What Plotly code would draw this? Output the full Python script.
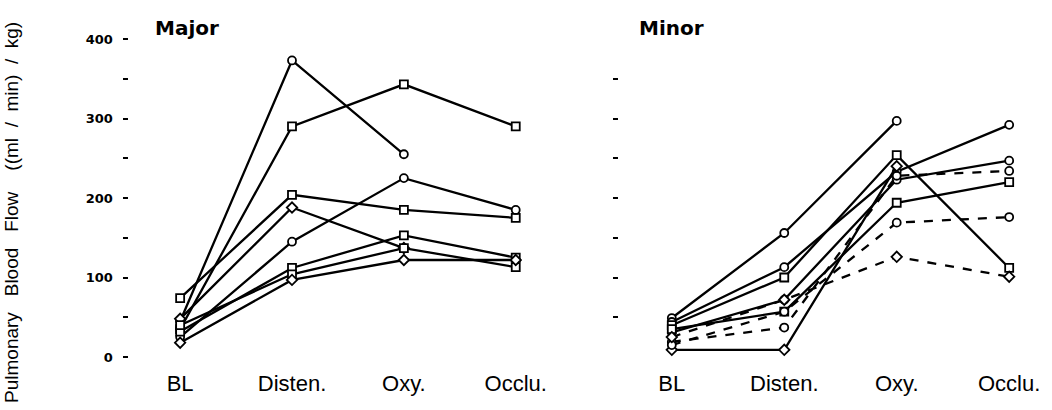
import plotly.graph_objects as go

W, H = 1052, 410

# Stages measured in each group
stages = ["BL", "Disten.", "Oxy.", "Occlu."]

# Major group: pulmonary blood flow per subject, (ml/min)/kg
major_a = [45, 373, 255]
major_b = [35, 290, 343, 290]
major_c = [74, 204, 185, 175]
major_d = [25, 145, 225, 185]
major_e = [48, 188, 137]
major_f = [32, 112, 153, 125]
major_g = [40, 104, 137, 113]
major_h = [18, 97, 122, 122]

# Minor group
minor_a = [49, 156, 297]
minor_b = [44, 113, 233, 292]
minor_c = [40, 100, 254, 112]
minor_d = [31, 72, 223, 247]
minor_e = [35, 57, 194, 220]
minor_f = [19, 37, 228, 234]
minor_g = [9, 9, 240]
minor_h = [15, 57, 169, 176]
minor_i = [25, 72, 126, 101]

major_series = [
    (major_a, "circle", "solid"),
    (major_b, "square", "solid"),
    (major_c, "square", "solid"),
    (major_d, "circle", "solid"),
    (major_e, "diamond", "solid"),
    (major_f, "square", "solid"),
    (major_g, "square", "solid"),
    (major_h, "diamond", "solid"),
]
minor_series = [
    (minor_a, "circle", "solid"),
    (minor_b, "circle", "solid"),
    (minor_c, "square", "solid"),
    (minor_d, "circle", "solid"),
    (minor_e, "square", "solid"),
    (minor_f, "circle", "dash"),
    (minor_g, "diamond", "solid"),
    (minor_h, "circle", "dash"),
    (minor_i, "diamond", "dash"),
]

fig = go.Figure()


def add_group(series, xa, ya):
    for vals, sym, dash in series:
        fig.add_trace(go.Scatter(
            x=stages[:len(vals)], y=vals, xaxis=xa, yaxis=ya,
            mode="lines+markers",
            line=dict(color="black", width=2.3, dash=dash),
            marker=dict(symbol=sym, size=8, color="white",
                        line=dict(color="black", width=1.8)),
            showlegend=False, hoverinfo="skip",
        ))


add_group(major_series, "x", "y")
add_group(minor_series, "x2", "y2")


def px(x):
    return x / W


def py(y):
    return 1 - y / H


y_dom = [py(368), py(30)]
# value 0 sits at y=357 px, 100 units = 79.5 px
y_range = [(357 - 368) / 0.795, (357 - 30) / 0.795]

x_common = dict(
    type="category", categoryorder="array", categoryarray=stages,
    showgrid=False, zeroline=False, showline=False, ticks="",
    tickfont=dict(family="Liberation Sans, Arial", size=22, color="black"),
)

fig.update_layout(
    width=W, height=H,
    margin=dict(l=0, r=0, t=0, b=0),
    paper_bgcolor="white", plot_bgcolor="white",
    xaxis=dict(domain=[px(130), px(545)],
               range=[(130 - 181) / 112.4, (545 - 181) / 112.4],
               anchor="y", **x_common),
    xaxis2=dict(domain=[px(622), px(1040)],
                range=[(622 - 675) / 113, (1040 - 675) / 113],
                anchor="y2", **x_common),
    yaxis=dict(domain=y_dom, range=y_range, anchor="x",
               showgrid=False, zeroline=False, showline=False,
               tickvals=[0, 100, 200, 300, 400],
               ticktext=["0", "100", "200", "300", "400"],
               ticks="outside", ticklen=5, tickwidth=2, tickcolor="black",
               minor=dict(tickvals=[50, 150, 250, 350], ticks="outside",
                          ticklen=5, tickwidth=2, tickcolor="black"),
               tickfont=dict(family="DejaVu Sans", size=13, color="black",
                             weight="bold"),
               ticklabelstandoff=8),
    yaxis2=dict(domain=y_dom, range=y_range, anchor="x2",
                showgrid=False, zeroline=False, showline=False,
                tickvals=[50, 100, 150, 200, 250, 300, 350],
                showticklabels=False,
                ticks="outside", ticklen=5, tickwidth=2, tickcolor="black"),
)

fig.add_annotation(text="Major", xref="paper", yref="paper",
                   x=px(154), y=py(28), xanchor="left", yanchor="middle",
                   showarrow=False,
                   font=dict(family="DejaVu Sans", size=20, color="black",
                             weight="bold"))
fig.add_annotation(text="Minor", xref="paper", yref="paper",
                   x=px(640), y=py(28), xanchor="left", yanchor="middle",
                   showarrow=False,
                   font=dict(family="DejaVu Sans", size=20, color="black",
                             weight="bold"))
fig.add_annotation(text="Pulmonary   Blood   Flow    ((ml  /  min)  /  kg)",
                   xref="paper", yref="paper",
                   x=px(11), y=py(212), xanchor="center", yanchor="middle",
                   textangle=-90, showarrow=False,
                   font=dict(family="Liberation Sans, Arial", size=19,
                             color="black"))

fig.write_html("out.html")
